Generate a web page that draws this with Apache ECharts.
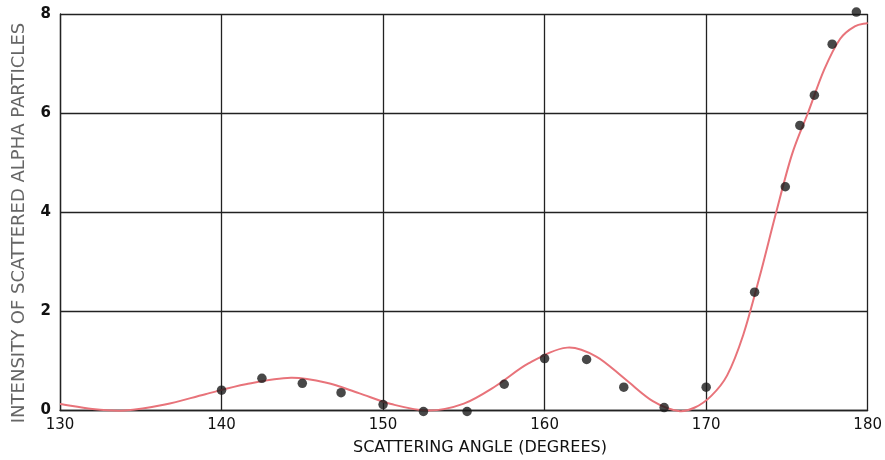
<!DOCTYPE html>
<html>
<head>
<meta charset="utf-8">
<script src="https://cdn.jsdelivr.net/npm/echarts@6/dist/echarts.min.js"></script>
<style>html,body{margin:0;padding:0;background:#fff;}#c{width:885px;height:460px;}</style>
</head>
<body>
<div id="c"></div>
<script>
// Measured data points (angle, intensity)
const pointAngles = [140, 142.5, 145, 147.4, 150, 152.5, 155.2, 157.5, 160, 162.6, 164.9, 167.4, 170, 173, 174.9, 175.8, 176.7, 177.8, 179.3];
const pointValues = [0.40, 0.64, 0.54, 0.35, 0.11, -0.03, -0.03, 0.52, 1.04, 1.02, 0.46, 0.05, 0.46, 2.38, 4.51, 5.75, 6.36, 7.39, 8.04];
// Theoretical curve (angle, intensity), read at extrema and in between
const curveAngles = [130, 132, 134, 136.5, 139, 141.5, 144.3, 146.5, 148.5, 150.5, 152.8, 155, 157, 159, 161.4, 163.2, 165, 166.7, 168.3, 169.3, 170.3, 171.3, 172.3, 173.3, 174.3, 175.3, 176.3, 177.3, 178.3, 179.2, 180];
const curveValues = [0.12, 0.02, -0.01, 0.11, 0.32, 0.52, 0.65, 0.55, 0.34, 0.12, -0.01, 0.13, 0.49, 0.94, 1.26, 1.08, 0.62, 0.18, -0.02, 0.05, 0.28, 0.70, 1.52, 2.68, 3.95, 5.15, 6.00, 6.87, 7.50, 7.75, 7.82];
const xTicks = [130, 140, 150, 160, 170, 180];
const yTicks = [0, 2, 4, 6, 8];
const xTitle = 'SCATTERING ANGLE (DEGREES)';
const yTitle = 'INTENSITY OF SCATTERED ALPHA PARTICLES';

const chart = echarts.init(document.getElementById('c'), null, {renderer: 'canvas'});
const font = 'DejaVu Sans, Liberation Sans, Arial, sans-serif';
const gridLine = {show: true, lineStyle: {color: '#222', width: 1.3}};

// Smooth curve through the curve points (cubic Hermite in pixel space, positions from the axes)
function renderCurve(params, api) {
  const pts = curveAngles.map((a, i) => api.coord([a, curveValues[i]]));
  const n = pts.length;
  const slope = [];
  for (let i = 0; i < n; i++) {
    const p0 = pts[Math.max(0, i - 1)], p1 = pts[Math.min(n - 1, i + 1)];
    slope.push((p1[1] - p0[1]) / (p1[0] - p0[0]));
  }
  let d = 'M' + pts[0][0] + ' ' + pts[0][1];
  for (let i = 0; i < n - 1; i++) {
    const h = (pts[i + 1][0] - pts[i][0]) / 3;
    d += ' C' + (pts[i][0] + h) + ' ' + (pts[i][1] + slope[i] * h) + ' ' +
      (pts[i + 1][0] - h) + ' ' + (pts[i + 1][1] - slope[i + 1] * h) + ' ' +
      pts[i + 1][0] + ' ' + pts[i + 1][1];
  }
  return {type: 'path', shape: {pathData: d}, style: {fill: 'none', stroke: '#e8737a', lineWidth: 2}};
}

chart.setOption({
  animation: false,
  backgroundColor: '#fff',
  grid: {left: 60, right: 14, top: 14, bottom: 50, containLabel: false},
  xAxis: {
    type: 'value', min: 130, max: 180, interval: 10,
    axisLine: {show: true, lineStyle: {color: '#222', width: 1.3}},
    axisTick: {show: false},
    splitLine: gridLine,
    axisLabel: {color: '#111', fontSize: 15, fontFamily: font, margin: 8,
      formatter: v => xTicks.includes(v) ? String(v) : ''}
  },
  yAxis: {
    type: 'value', min: 0, max: 8, interval: 2,
    axisLine: {show: true, lineStyle: {color: '#222', width: 1.3}},
    axisTick: {show: false},
    splitLine: gridLine,
    axisLabel: {color: '#111', fontSize: 15, fontFamily: font, fontWeight: 'bold', margin: 9,
      formatter: v => yTicks.includes(v) ? String(v) : ''}
  },
  graphic: [
    {type: 'text', x: 480, y: 448, style: {text: xTitle, fill: '#111', font: '16px ' + font, align: 'center', verticalAlign: 'middle'}},
    {type: 'text', x: 19, y: 223, rotation: Math.PI / 2,
      style: {text: yTitle, fill: '#666', font: '18px ' + font, align: 'center', verticalAlign: 'middle'}}
  ],
  series: [
    {type: 'custom', coordinateSystem: 'cartesian2d', data: [[curveAngles[0], curveValues[0]]],
      renderItem: renderCurve, clip: false, z: 2, silent: true},
    {type: 'scatter', data: pointAngles.map((a, i) => [a, pointValues[i]]), symbolSize: 9.5,
      itemStyle: {color: '#1a1a1a'}, clip: false, z: 3}
  ]
});
</script>
</body>
</html>
